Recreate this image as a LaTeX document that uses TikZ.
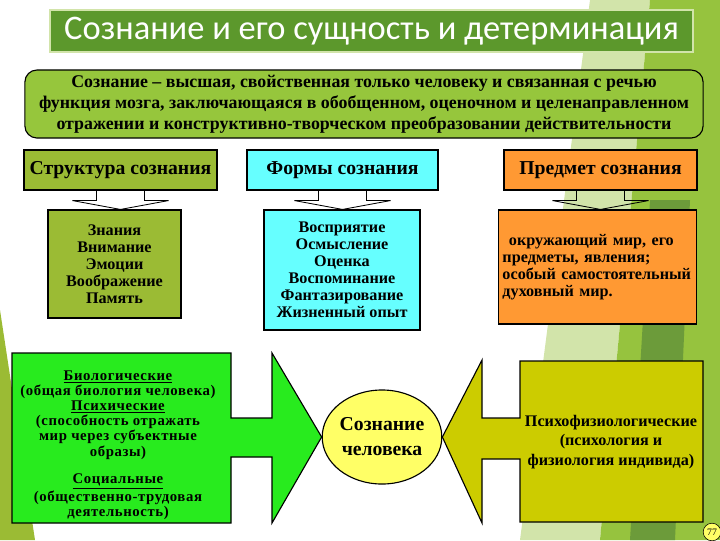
\documentclass[tikz,border=0pt]{standalone}
\usepackage{fontspec}
\setmainfont{Liberation Serif}
\newfontfamily\titlefont{Carlito}
\usetikzlibrary{positioning}
\usetikzlibrary{shapes.geometric}
\definecolor{titlegreen}{RGB}{92,152,44}
\definecolor{defgreen}{RGB}{150,198,60}
\definecolor{olivebox}{RGB}{155,187,52}
\definecolor{cyanbox}{RGB}{102,255,255}
\definecolor{orangebox}{RGB}{255,153,51}
\definecolor{arrowgreen}{RGB}{40,235,30}
\definecolor{arrowolive}{RGB}{204,204,0}
\definecolor{circyellow}{RGB}{255,255,102}
\definecolor{bgpale}{RGB}{210,228,170}
\definecolor{bgmid}{RGB}{150,195,62}
\definecolor{bgdark}{RGB}{108,155,58}

\begin{document}
\begin{tikzpicture}[x=0.025cm,y=-0.025cm,
  every node/.style={inner sep=2pt},
  hdr/.style={draw,line width=0.8pt,minimum height=1cm,font=\bfseries\fontsize{14}{16}\selectfont},
  lst/.style={draw,line width=0.8pt,align=center,font=\bfseries\fontsize{11.5}{12.1}\selectfont},
  tail/.style={line width=0.6pt},
  blockarrow/.style={draw,line width=0.8pt}]
  \useasboundingbox (0,0) rectangle (720,540);
  % background
  \fill[bgpale] (590,0) -- (650,0) -- (600,540) -- (520,540) -- cycle;
  \fill[bgmid] (650,0) -- (720,0) -- (720,540) -- (600,540) -- cycle;
  \fill[bgdark] (650,200) -- (690,200) -- (675,540) -- (630,540) -- cycle;
  \fill[olivebox] (0,310) -- (35,540) -- (0,540) -- cycle;
  % title and definition
  \node[fill=titlegreen,draw=bgpale,line width=1pt,minimum width=16.075cm,minimum height=1.05cm,
    font=\titlefont\fontsize{24.5}{28}\selectfont,text=white] (title) at (371.5,31) {Сознание и его сущность и детерминация};
  \node[fill=defgreen,draw,line width=0.8pt,rounded corners=0.3cm,minimum width=16.95cm,minimum height=1.7cm,
    align=center,font=\bfseries\fontsize{12.7}{14.9}\selectfont] (def) at (364,104)
    {Сознание – высшая, свойственная только человеку и связанная с речью\\
     функция мозга, заключающаяся в обобщенном, оценочном и целенаправленном\\
     отражении и конструктивно-творческом преобразовании действительности};
  % headers
  \node[hdr,fill=olivebox,minimum width=4.825cm] (strukt) at (120.5,170) {Структура сознания};
  \node[hdr,fill=cyanbox,minimum width=4.775cm] (formy) at (342.5,170) {Формы сознания};
  \node[hdr,fill=orangebox,minimum width=4.825cm] (predmet) at (600.5,170) {Предмет сознания};
  % lists
  \node[lst,fill=olivebox,minimum width=3.325cm,minimum height=2.7cm] (znan) at (114.5,264)
    {Знания\\Внимание\\Эмоции\\Воображение\\Память};
  \node[lst,fill=cyanbox,minimum width=3.9cm,minimum height=3cm] (vospr) at (342,270)
    {Восприятие\\Осмысление\\Оценка\\Воспоминание\\Фантазирование\\Жизненный опыт};
  \node[lst,fill=orangebox,text width=4.75cm,inner xsep=0.1cm,align=left,minimum height=2.85cm] (okr) at (597.5,267)
    {\hspace{0.4em}окружающий мир, его\\предметы, явления;\\особый самостоятельный\\духовный мир.};
  % callout tails
  \draw[tail] ([shift={(-24,0)}]strukt.south) -- ++(0,10) -- ++(-24,0) -- (strukt.south |- znan.north)
    -- ([shift={(48,10)}]strukt.south) -- ++(-24,0) -- ++(0,-10);
  \draw[tail] ([shift={(-24,0)}]formy.south) -- ++(0,10) -- ++(-24,0) -- (formy.south |- vospr.north)
    -- ([shift={(48,10)}]formy.south) -- ++(-24,0) -- ++(0,-10);
  \draw[tail] ([shift={(-24,0)}]predmet.south) -- ++(0,10) -- ++(-24,0) -- (predmet.south |- okr.north)
    -- ([shift={(48,10)}]predmet.south) -- ++(-24,0) -- ++(0,-10);
  % consciousness
  \node[ellipse,draw,line width=0.8pt,fill=circyellow,minimum width=2.85cm,minimum height=2.35cm,inner sep=0pt,
    align=center,font=\bfseries\fontsize{14}{17.7}\selectfont] (soz) at (382,437) {Сознание\\человека};
  \draw[blockarrow,fill=arrowgreen] (12,353) -- (231,353) -- (231,418) -- (272,418) -- (272,353) -- (soz.west)
    -- (272,523) -- (272,457) -- (231,457) -- (231,523) -- (12,523) -- cycle;
  \draw[blockarrow,fill=arrowolive] (703,361) -- (520,361) -- (520,418) -- (482,418) -- (482,360) -- (soz.east)
    -- (482,523) -- (482,459) -- (520,459) -- (520,522) -- (703,522) -- cycle;
  \node[align=center,font=\bfseries\fontsize{10.5}{10.8}\selectfont\addfontfeature{LetterSpace=4}] (bio) at (118,445)
    {\underline{Биологические}\\(общая биология человека)\\\underline{Психические}\\(способность отражать\\
     мир через субъектные\\образы)\\[9pt]\underline{Социальные}\\(общественно-трудовая\\деятельность)};
  \node[align=center,font=\bfseries\fontsize{11.5}{14}\selectfont] (psy) at (611,442)
    {Психофизиологические\\(психология и\\физиология индивида)};
  \node[circle,draw,fill=circyellow,inner sep=1.5pt,font=\fontsize{7}{8}\selectfont] (num) at (712,532) {77};
\end{tikzpicture}
\end{document}
